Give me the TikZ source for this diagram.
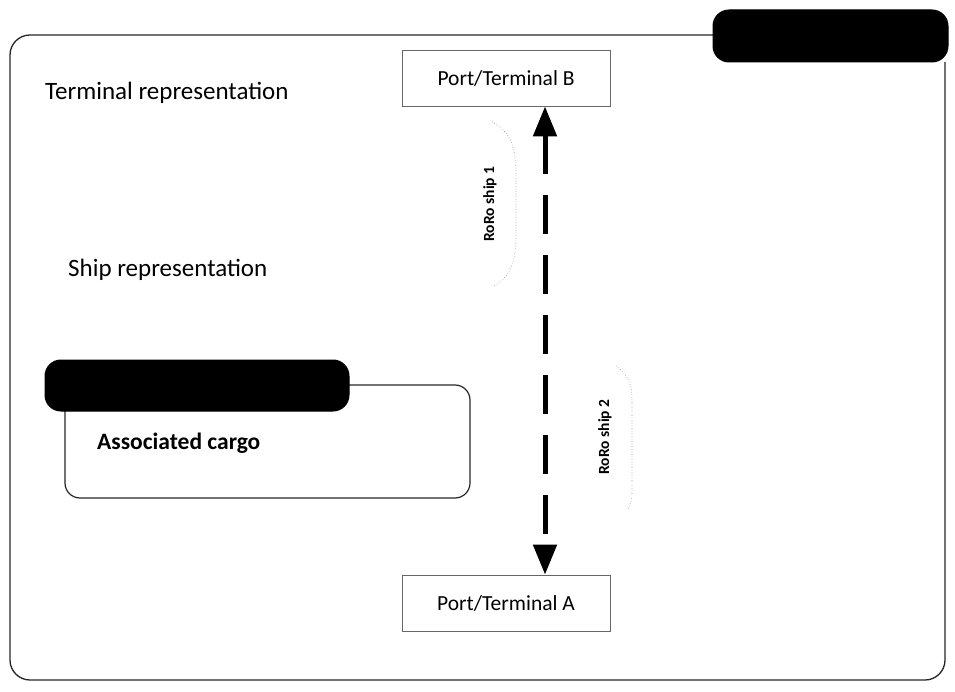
\documentclass[tikz,border=0pt]{standalone}
\usepackage{fontspec}
\setmainfont{Carlito}
\usetikzlibrary{arrows.meta}
\begin{document}
\begin{tikzpicture}[x=1pt,y=-1pt,
  frame/.style={draw=black!85,line width=1.3pt,rounded corners=20pt},
  portbox/.style={draw=black!60,line width=0.8pt,minimum width=208pt,minimum height=56pt,inner sep=0pt,font=\fontsize{21.5}{25}\selectfont},
  pill/.style={fill=black,draw=black,line width=1pt,rounded corners=16pt},
  cargobox/.style={draw=black!85,line width=1.2pt,rounded corners=15pt},
  lbl/.style={inner sep=0pt,font=\fontsize{25}{30}\selectfont},
  shiplbl/.style={inner sep=0pt,rotate=90,font=\fontsize{15.5}{18}\bfseries\selectfont},
  bracket/.style={draw=black!45,line width=0.6pt,dotted},
  link/.style={line width=5pt,dash pattern=on 39pt off 21pt}
]
\useasboundingbox (0,0) rectangle (955,692);
% outer frame
\draw[frame] (713,35) -- (10,35) -- (10,680) -- (945,680) -- (945,62);
% top-right pill
\filldraw[pill] (713,10) rectangle (948,62);
% port boxes
\node[portbox] (B) at (506,78) {Port/Terminal B};
\node[portbox] (A) at (506,603) {Port/Terminal A};
% arrow
\draw[link,{Triangle[length=30pt,width=23pt]}-{Triangle[length=30pt,width=23pt]}] ([xshift=39pt]B.south) -- ([xshift=39pt]A.north);
% labels
\node[lbl,anchor=base west] (tr) at (45,100) {Terminal representation};
\node[lbl,anchor=base west] (sr) at (68,277) {Ship representation};
% cargo
\draw[cargobox] (65,385) rectangle (470,498);
\filldraw[pill] (45,360) rectangle (349,411);
\node[inner sep=0pt,anchor=west,font=\fontsize{23.5}{28}\bfseries\selectfont] (ac) at (97,443) {Associated cargo};
% ship labels
\node[shiplbl] (s1) at (490,204) {RoRo ship 1};
\node[shiplbl] (s2) at (605,437) {RoRo ship 2};
\draw[bracket] (492,122) .. controls (512,132) and (516,150) .. (516,175) -- (516,235) .. controls (516,262) and (510,277) .. (494,286);
\draw[bracket] (616,366) .. controls (628,374) and (632,385) .. (632,400) -- (632,495) .. controls (632,500) and (630,505) .. (628,509);
\end{tikzpicture}
\end{document}
